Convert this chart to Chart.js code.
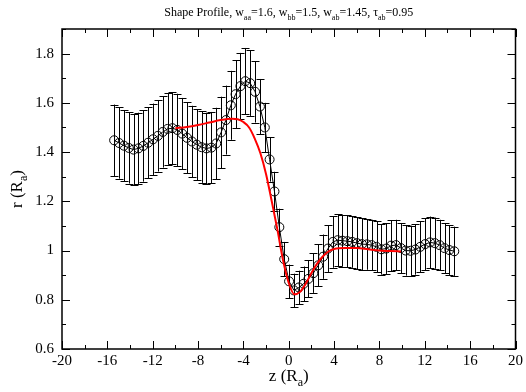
<!DOCTYPE html>
<html>
<head>
<meta charset="utf-8">
<script src="https://cdn.jsdelivr.net/npm/chart.js@4/dist/chart.umd.min.js"></script>
<style>
  html, body { margin: 0; padding: 0; background: #fff; }
  #wrap { width: 526px; height: 392px; position: relative; }
</style>
</head>
<body>
<div id="wrap"><canvas id="c" width="526" height="392"></canvas></div>
<script>
// ---- data ----
const zValues = [
  -15.40, -14.97, -14.54, -14.11, -13.69, -13.26, -12.83, -12.40, -11.97, -11.54,
  -11.11, -10.69, -10.26, -9.83, -9.40, -8.97, -8.54, -8.11, -7.69, -7.26,
  -6.83, -6.40, -5.97, -5.54, -5.11, -4.69, -4.26, -3.83, -3.40, -2.97,
  -2.54, -2.11, -1.69, -1.26, -0.83, -0.40, 0.03, 0.46, 0.89, 1.31,
  1.74, 2.17, 2.60, 3.03, 3.46, 3.89, 4.31, 4.74, 5.17, 5.60,
  6.03, 6.46, 6.89, 7.31, 7.74, 8.17, 8.60, 9.03, 9.46, 9.89,
  10.31, 10.74, 11.17, 11.60, 12.03, 12.46, 12.89, 13.31, 13.74, 14.17,
  14.60
];
const rValues = [
  1.448, 1.437, 1.426, 1.417, 1.410, 1.415, 1.425, 1.438, 1.452, 1.466,
  1.482, 1.494, 1.497, 1.490, 1.475, 1.458, 1.443, 1.430, 1.420, 1.415,
  1.418, 1.435, 1.480, 1.530, 1.590, 1.635, 1.668, 1.688, 1.680, 1.645,
  1.585, 1.500, 1.370, 1.240, 1.095, 0.965, 0.875, 0.838, 0.850, 0.865,
  0.885, 0.908, 0.940, 0.975, 1.008, 1.035, 1.042, 1.040, 1.038, 1.035,
  1.030, 1.026, 1.025, 1.022, 1.015, 1.005, 1.008, 1.020, 1.022, 1.010,
  1.000, 0.999, 1.004, 1.015, 1.026, 1.033, 1.030, 1.022, 1.010, 1.002,
  0.997
];
const rErrors = [
  0.145, 0.145, 0.145, 0.145, 0.145, 0.145, 0.145, 0.145, 0.145, 0.145,
  0.145, 0.145, 0.147, 0.147, 0.145, 0.145, 0.145, 0.145, 0.145, 0.145,
  0.145, 0.145, 0.145, 0.140, 0.140, 0.138, 0.135, 0.135, 0.133, 0.125,
  0.112, 0.100, 0.090, 0.080, 0.075, 0.070, 0.068, 0.068, 0.068, 0.070,
  0.075, 0.080, 0.085, 0.090, 0.095, 0.105, 0.105, 0.105, 0.105, 0.105,
  0.105, 0.105, 0.103, 0.103, 0.103, 0.103, 0.103, 0.103, 0.103, 0.102,
  0.102, 0.102, 0.102, 0.103, 0.105, 0.105, 0.104, 0.103, 0.102, 0.101,
  0.100
];
const fitZ = [
  -10.0, -9.0, -8.0, -7.0, -6.0, -5.0, -4.5, -4.0, -3.5, -3.0,
  -2.5, -2.0, -1.5, -1.0, -0.5, 0.0, 0.5, 1.0, 1.5, 2.0,
  2.5, 3.0, 3.5, 4.0, 5.0, 6.0, 7.0, 8.0, 9.0, 9.9
];
const fitR = [
  1.497, 1.502, 1.510, 1.520, 1.530, 1.535, 1.533, 1.522, 1.500, 1.455,
  1.395, 1.310, 1.200, 1.085, 0.960, 0.868, 0.822, 0.832, 0.865, 0.909,
  0.947, 0.976, 0.996, 1.006, 1.010, 1.010, 1.005, 1.000, 0.998, 0.996
];
const xTicks = [-20, -16, -12, -8, -4, 0, 4, 8, 12, 16, 20];
const yTicks = [0.6, 0.8, 1.0, 1.2, 1.4, 1.6, 1.8];

const titleParts = [
  ['Shape Profile, w', 0], ['aa', 1], ['=1.6, w', 0], ['bb', 1], ['=1.5, w', 0],
  ['ab', 1], ['=1.45, \u03C4', 0], ['ab', 1], ['=0.95', 0]
];
const xTitleParts = [['z (R', 0], ['a', 1], [')', 0]];
const yTitleParts = [['r (R', 0], ['a', 1], [')', 0]];

// ---- helpers ----
const SERIF = '"Liberation Serif", "DejaVu Serif", serif';

function drawParts(ctx, parts, cx, baseline, size, subDrop) {
  const subSize = Math.round(size * 0.68);
  let total = 0;
  parts.forEach(([t, s]) => {
    ctx.font = (s ? subSize : size) + 'px ' + SERIF;
    total += ctx.measureText(t).width;
  });
  let x = cx - total / 2;
  ctx.textBaseline = 'alphabetic';
  ctx.textAlign = 'left';
  parts.forEach(([t, s]) => {
    ctx.font = (s ? subSize : size) + 'px ' + SERIF;
    ctx.fillText(t, x, baseline + (s ? size * subDrop : 0));
    x += ctx.measureText(t).width;
  });
}

const errorBarPlugin = {
  id: 'errorBars',
  beforeDatasetsDraw(chart) {
    const ctx = chart.ctx, xs = chart.scales.x, ys = chart.scales.y;
    const a = chart.chartArea;
    ctx.save();
    ctx.beginPath();
    ctx.rect(a.left, a.top, a.right - a.left, a.bottom - a.top);
    ctx.clip();
    ctx.strokeStyle = '#000';
    ctx.lineWidth = 1;
    for (let i = 0; i < zValues.length; i++) {
      const px = Math.round(xs.getPixelForValue(zValues[i])) + 0.5;
      const yTop = ys.getPixelForValue(rValues[i] + rErrors[i]);
      const yBot = ys.getPixelForValue(rValues[i] - rErrors[i]);
      ctx.beginPath();
      ctx.moveTo(px, yTop); ctx.lineTo(px, yBot);
      ctx.moveTo(px - 4, Math.round(yTop) + 0.5); ctx.lineTo(px + 4, Math.round(yTop) + 0.5);
      ctx.moveTo(px - 4, Math.round(yBot) + 0.5); ctx.lineTo(px + 4, Math.round(yBot) + 0.5);
      ctx.stroke();
    }
    ctx.restore();
  }
};

const framePlugin = {
  id: 'frame',
  afterDraw(chart) {
    const ctx = chart.ctx, xs = chart.scales.x, ys = chart.scales.y;
    const a = chart.chartArea;
    ctx.save();
    ctx.strokeStyle = '#000';
    ctx.lineWidth = 1.5;
    ctx.strokeRect(a.left, a.top, a.right - a.left, a.bottom - a.top);
    ctx.lineWidth = 1;
    ctx.beginPath();
    for (let v = -20; v <= 20; v += 2) {
      const px = Math.round(xs.getPixelForValue(v)) + 0.5;
      const len = (v % 4 === 0) ? 8 : 4;
      ctx.moveTo(px, a.bottom); ctx.lineTo(px, a.bottom - len);
      ctx.moveTo(px, a.top); ctx.lineTo(px, a.top + len);
    }
    for (let k = 6; k <= 19; k++) {
      const v = k / 10;
      const py = Math.round(ys.getPixelForValue(v)) + 0.5;
      const len = (k % 2 === 0) ? 8 : 4;
      ctx.moveTo(a.left, py); ctx.lineTo(a.left + len, py);
      ctx.moveTo(a.right, py); ctx.lineTo(a.right - len, py);
    }
    ctx.stroke();

    ctx.fillStyle = '#000';
    const cx = (a.left + a.right) / 2;
    drawParts(ctx, titleParts, cx, 16, 12, 0.35);
    drawParts(ctx, xTitleParts, cx, 381, 17, 0.3);
    ctx.save();
    ctx.translate(22, (a.top + a.bottom) / 2);
    ctx.rotate(-Math.PI / 2);
    drawParts(ctx, yTitleParts, 0, 0, 17, 0.3);
    ctx.restore();
    ctx.restore();
  }
};

const dataPts = zValues.map((z, i) => ({ x: z, y: rValues[i] }));
const fitPts = fitZ.map((z, i) => ({ x: z, y: fitR[i] }));

new Chart(document.getElementById('c'), {
  type: 'scatter',
  data: {
    datasets: [
      {
        label: 'fit',
        data: fitPts,
        showLine: true,
        borderColor: '#ff0000',
        borderWidth: 2,
        pointRadius: 0,
        cubicInterpolationMode: 'monotone',
        order: 0
      },
      {
        label: 'profile',
        data: dataPts,
        showLine: true,
        borderColor: '#000',
        borderWidth: 1,
        pointRadius: 4.5,
        pointBorderWidth: 1,
        pointBorderColor: '#000',
        pointBackgroundColor: 'rgba(0,0,0,0)',
        tension: 0,
        order: 1
      }
    ]
  },
  options: {
    responsive: false,
    animation: false,
    layout: { padding: { top: 29, right: 8, left: 0, bottom: 0 } },
    plugins: { legend: { display: false }, tooltip: { enabled: false }, title: { display: false } },
    scales: {
      x: {
        type: 'linear', min: -20, max: 20,
        grid: { display: false, drawTicks: false },
        border: { display: false },
        afterFit(s) { s.height = 43; },
        afterBuildTicks(s) { s.ticks = xTicks.map(v => ({ value: v })); },
        ticks: {
          color: '#000', padding: 3,
          font: { family: SERIF, size: 15 },
          maxRotation: 0, autoSkip: false,
          callback: v => String(v)
        }
      },
      y: {
        type: 'linear', min: 0.6, max: 1.9,
        grid: { display: false, drawTicks: false },
        border: { display: false },
        afterFit(s) { s.width = 62; },
        afterBuildTicks(s) { s.ticks = yTicks.map(v => ({ value: v })); },
        ticks: {
          color: '#000', padding: 8,
          font: { family: SERIF, size: 15 },
          autoSkip: false,
          callback: v => String(Number(v.toFixed(1)))
        }
      }
    }
  },
  plugins: [errorBarPlugin, framePlugin]
});
</script>
</body>
</html>
